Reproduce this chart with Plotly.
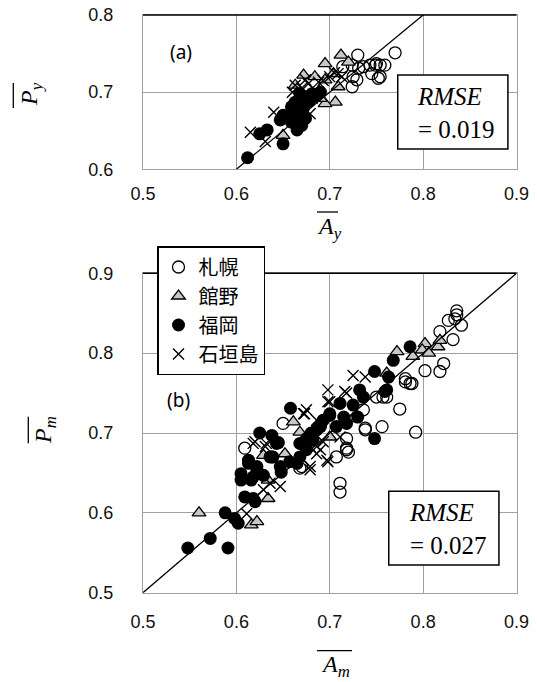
import plotly.graph_objects as go

# ---------------- data ----------------
station_names = ["札幌", "館野", "福岡", "石垣島"]
tick_vals = [0.5, 0.6, 0.7, 0.8, 0.9]
ticks_a_y = [0.6, 0.7, 0.8]
ticks_b_y = [0.5, 0.6, 0.7, 0.8, 0.9]
rmse_a = 0.019
rmse_b = 0.027
one_to_one_a = [0.6, 0.8]
one_to_one_b = [0.5, 0.9]

# (a) yearly
a_sapporo_x = [0.770, 0.730, 0.724, 0.731, 0.743, 0.749, 0.754, 0.745, 0.754, 0.724, 0.729, 0.736, 0.759, 0.725, 0.714, 0.752, 0.750]
a_sapporo_y = [0.751, 0.748, 0.735, 0.731, 0.735, 0.735, 0.735, 0.724, 0.720, 0.707, 0.716, 0.733, 0.735, 0.720, 0.733, 0.718, 0.737]
a_tateno_x = [0.712, 0.695, 0.720, 0.672, 0.704, 0.684, 0.695, 0.706, 0.695, 0.650, 0.663, 0.709, 0.690]
a_tateno_y = [0.748, 0.737, 0.739, 0.722, 0.724, 0.720, 0.716, 0.687, 0.685, 0.644, 0.709, 0.707, 0.692]
a_fukuoka_x = [0.612, 0.650, 0.625, 0.633, 0.647, 0.650, 0.659, 0.665, 0.670, 0.665, 0.674, 0.663, 0.674, 0.681, 0.668, 0.659, 0.672, 0.678, 0.685, 0.662, 0.668, 0.690]
a_fukuoka_y = [0.615, 0.633, 0.646, 0.651, 0.664, 0.670, 0.681, 0.651, 0.657, 0.668, 0.666, 0.687, 0.694, 0.698, 0.698, 0.661, 0.680, 0.688, 0.695, 0.672, 0.676, 0.700]
a_ishigaki_x = [0.640, 0.615, 0.631, 0.679, 0.663, 0.670, 0.677, 0.684, 0.674, 0.688, 0.709, 0.713, 0.681, 0.693, 0.700, 0.660, 0.705]
a_ishigaki_y = [0.674, 0.648, 0.636, 0.672, 0.709, 0.705, 0.711, 0.703, 0.716, 0.713, 0.724, 0.720, 0.692, 0.715, 0.720, 0.700, 0.725]

# (b) monthly
b_sapporo_x = [0.836, 0.836, 0.834, 0.827, 0.841, 0.818, 0.832, 0.822, 0.818, 0.802, 0.781, 0.786, 0.775, 0.757,
               0.756, 0.738, 0.718, 0.718, 0.707, 0.650, 0.609, 0.736, 0.720, 0.668, 0.711, 0.711, 0.738, 0.670,
               0.792, 0.750, 0.761, 0.781, 0.788, 0.718]
b_sapporo_y = [0.853, 0.848, 0.843, 0.841, 0.835, 0.827, 0.817, 0.787, 0.777, 0.778, 0.768, 0.762, 0.730, 0.745,
               0.708, 0.704, 0.693, 0.679, 0.670, 0.712, 0.681, 0.729, 0.676, 0.656, 0.637, 0.626, 0.706, 0.658,
               0.701, 0.745, 0.745, 0.764, 0.762, 0.681]
b_tateno_x = [0.802, 0.799, 0.816, 0.806, 0.818, 0.789, 0.772, 0.661, 0.668, 0.725, 0.700, 0.629, 0.560, 0.616,
              0.622, 0.634, 0.652, 0.634, 0.761]
b_tateno_y = [0.812, 0.804, 0.808, 0.800, 0.816, 0.796, 0.802, 0.714, 0.701, 0.718, 0.695, 0.672, 0.600, 0.585,
              0.589, 0.618, 0.674, 0.641, 0.775]
b_fukuoka_x = [0.786, 0.768, 0.748, 0.763, 0.732, 0.759, 0.658, 0.625, 0.638, 0.645, 0.613, 0.638, 0.748, 0.711,
               0.700, 0.690, 0.682, 0.675, 0.718, 0.736, 0.665, 0.761, 0.548, 0.572, 0.591, 0.588, 0.598, 0.602,
               0.609, 0.620, 0.605, 0.613, 0.622, 0.616, 0.643, 0.639, 0.629, 0.647, 0.605, 0.636, 0.622, 0.618,
               0.618, 0.668, 0.675, 0.668, 0.657, 0.686, 0.693, 0.700, 0.707, 0.648, 0.725, 0.715, 0.680, 0.690,
               0.730]
b_fukuoka_y = [0.808, 0.791, 0.777, 0.770, 0.754, 0.752, 0.731, 0.700, 0.697, 0.688, 0.666, 0.670, 0.693, 0.737,
               0.722, 0.708, 0.691, 0.679, 0.712, 0.745, 0.662, 0.754, 0.556, 0.568, 0.556, 0.600, 0.593, 0.587,
               0.620, 0.614, 0.641, 0.662, 0.654, 0.641, 0.687, 0.670, 0.647, 0.658, 0.649, 0.670, 0.658, 0.645,
               0.618, 0.687, 0.693, 0.670, 0.664, 0.704, 0.716, 0.724, 0.708, 0.651, 0.735, 0.720, 0.700, 0.710,
               0.720]
b_ishigaki_x = [0.725, 0.738, 0.716, 0.698, 0.698, 0.718, 0.673, 0.686, 0.620, 0.631, 0.679, 0.690, 0.698, 0.679,
                0.693, 0.711, 0.647, 0.611, 0.632, 0.636, 0.686, 0.629, 0.679, 0.697, 0.686, 0.618, 0.675, 0.700,
                0.672]
b_ishigaki_y = [0.772, 0.770, 0.752, 0.754, 0.739, 0.750, 0.724, 0.716, 0.689, 0.683, 0.683, 0.679, 0.664, 0.658,
                0.689, 0.695, 0.633, 0.599, 0.687, 0.637, 0.683, 0.629, 0.654, 0.666, 0.674, 0.687, 0.729, 0.739,
                0.724]

# ---------------- figure ----------------
W, H = 537, 682
fig = go.Figure()

styles = [
    dict(symbol="circle-open", size=12, color="black", line=dict(color="black", width=1.3)),
    dict(symbol="triangle-up", size=12, color="#c8c8c8", line=dict(color="black", width=1.3)),
    dict(symbol="circle", size=13, color="black", line=dict(color="black", width=0)),
    dict(symbol="x-thin-open", size=11, color="black", line=dict(color="black", width=1.4)),
]

a_sets = [(a_sapporo_x, a_sapporo_y), (a_tateno_x, a_tateno_y), (a_fukuoka_x, a_fukuoka_y), (a_ishigaki_x, a_ishigaki_y)]
b_sets = [(b_sapporo_x, b_sapporo_y), (b_tateno_x, b_tateno_y), (b_fukuoka_x, b_fukuoka_y), (b_ishigaki_x, b_ishigaki_y)]

for i, (name, st) in enumerate(zip(station_names, styles)):
    fig.add_trace(go.Scatter(x=a_sets[i][0], y=a_sets[i][1], mode="markers", name=name,
                             marker=st, xaxis="x", yaxis="y", showlegend=False, legendgroup=name))
for i, (name, st) in enumerate(zip(station_names, styles)):
    fig.add_trace(go.Scatter(x=b_sets[i][0], y=b_sets[i][1], mode="markers", name=name,
                             marker=st, xaxis="x2", yaxis="y2", showlegend=True, legendgroup=name))

fig.add_trace(go.Scatter(x=one_to_one_a, y=one_to_one_a, mode="lines", line=dict(color="black", width=1.3),
                         xaxis="x", yaxis="y", showlegend=False, hoverinfo="skip"))
fig.add_trace(go.Scatter(x=one_to_one_b, y=one_to_one_b, mode="lines", line=dict(color="black", width=1.3),
                         xaxis="x2", yaxis="y2", showlegend=False, hoverinfo="skip"))

def px_x(v):
    return v / W

def px_y(v):
    return 1 - v / H

grid = "#a0a0a0"
tickfont = dict(family="Liberation Sans, Arial", size=18, color="#111")
axcommon = dict(showgrid=True, gridcolor=grid, gridwidth=1.2, showline=True, linecolor=grid, linewidth=1.3,
                mirror=True, zeroline=False, ticks="", tickfont=tickfont, tickformat=".1f", fixedrange=True,
                automargin=False)

fig.update_layout(
    width=W, height=H,
    margin=dict(l=0, r=0, t=0, b=0, autoexpand=False),
    paper_bgcolor="white", plot_bgcolor="white",
    xaxis=dict(domain=[px_x(143), px_x(516.5)], range=[0.5, 0.9], tickvals=tick_vals, anchor="y",
               ticklabelstandoff=8, **axcommon),
    yaxis=dict(domain=[px_y(169.3), px_y(15)], range=[0.6, 0.8], tickvals=ticks_a_y, anchor="x",
               ticklabelstandoff=25, **axcommon),
    xaxis2=dict(domain=[px_x(143), px_x(516.5)], range=[0.5, 0.9], tickvals=tick_vals, anchor="y2",
                ticklabelstandoff=13, **axcommon),
    yaxis2=dict(domain=[px_y(592.7), px_y(273.3)], range=[0.5, 0.9], tickvals=ticks_b_y, anchor="x2",
                ticklabelstandoff=25, **axcommon),
    legend=dict(x=px_x(157), y=px_y(246), xanchor="left", yanchor="top",
                bgcolor="white", bordercolor="black", borderwidth=1.5,
                font=dict(family="Noto Sans CJK JP", size=20, color="black"),
                itemwidth=30, tracegroupgap=6, traceorder="normal"),
    showlegend=True,
    hovermode=False,
)

shapes = []
# dark top borders
shapes.append(dict(type="line", xref="x domain", yref="y domain", x0=0, x1=1, y0=1, y1=1,
                   line=dict(color="black", width=1.5)))
shapes.append(dict(type="line", xref="x2 domain", yref="y2 domain", x0=0, x1=1, y0=1, y1=1,
                   line=dict(color="black", width=1.5)))
# RMSE boxes
shapes.append(dict(type="rect", xref="x domain", yref="y domain", x0=0.682, x1=0.977, y0=0.1316, y1=0.611,
                   line=dict(color="black", width=1.5), fillcolor="white", layer="above"))
shapes.append(dict(type="rect", xref="x2 domain", yref="y2 domain", x0=0.658, x1=0.953, y0=0.0867, y1=0.318,
                   line=dict(color="black", width=1.5), fillcolor="white", layer="above"))
# overlines for axis titles
ol = dict(color="black", width=1.3)
shapes.append(dict(type="line", xref="paper", yref="paper", x0=px_x(317), x1=px_x(338), y0=px_y(212), y1=px_y(212), line=ol))
shapes.append(dict(type="line", xref="paper", yref="paper", x0=px_x(317), x1=px_x(352), y0=px_y(650.7), y1=px_y(650.7), line=ol))
shapes.append(dict(type="line", xref="paper", yref="paper", x0=px_x(13.3), x1=px_x(13.3), y0=px_y(83), y1=px_y(108), line=ol))
shapes.append(dict(type="line", xref="paper", yref="paper", x0=px_x(28.3), x1=px_x(28.3), y0=px_y(416.7), y1=px_y(443.3), line=ol))
fig.update_layout(shapes=shapes)

serif = "Liberation Serif, Times New Roman, serif"
ann = []
ann.append(dict(xref="x domain", yref="y domain", x=0.728, y=0.368, xanchor="left", yanchor="middle", align="left",
                text="<i>RMSE</i><br>= %.3f" % rmse_a, showarrow=False, font=dict(family=serif, size=25, color="black")))
ann.append(dict(xref="x2 domain", yref="y2 domain", x=0.706, y=0.199, xanchor="left", yanchor="middle", align="left",
                text="<i>RMSE</i><br>= %.3f" % rmse_b, showarrow=False, font=dict(family=serif, size=25, color="black")))
ann.append(dict(xref="x domain", yref="y domain", x=0.102, y=0.760, xanchor="center", yanchor="middle",
                text="(a)", showarrow=False, font=dict(family="Noto Sans", size=19, color="black")))
ann.append(dict(xref="x2 domain", yref="y2 domain", x=0.096, y=0.603, xanchor="center", yanchor="middle",
                text="(b)", showarrow=False, font=dict(family="Noto Sans", size=19, color="black")))
ann.append(dict(xref="paper", yref="paper", x=px_x(329), y=px_y(228), xanchor="center", yanchor="middle",
                text="<i>A</i><sub><i>y</i></sub>", showarrow=False, font=dict(family=serif, size=24, color="black")))
ann.append(dict(xref="paper", yref="paper", x=px_x(335), y=px_y(666), xanchor="center", yanchor="middle",
                text="<i>A</i><sub><i>m</i></sub>", showarrow=False, font=dict(family=serif, size=24, color="black")))
ann.append(dict(xref="paper", yref="paper", x=px_x(31), y=px_y(94), xanchor="center", yanchor="middle",
                text="<i>P</i><sub><i>y</i></sub>", textangle=-90,
                showarrow=False, font=dict(family=serif, size=24, color="black")))
ann.append(dict(xref="paper", yref="paper", x=px_x(45), y=px_y(430), xanchor="center", yanchor="middle",
                text="<i>P</i><sub><i>m</i></sub>", textangle=-90,
                showarrow=False, font=dict(family=serif, size=24, color="black")))
fig.update_layout(annotations=ann)

fig.write_html("out.html", config={"displayModeBar": False},
               post_script="document.body.style.margin='0';document.body.style.overflow='hidden';")
